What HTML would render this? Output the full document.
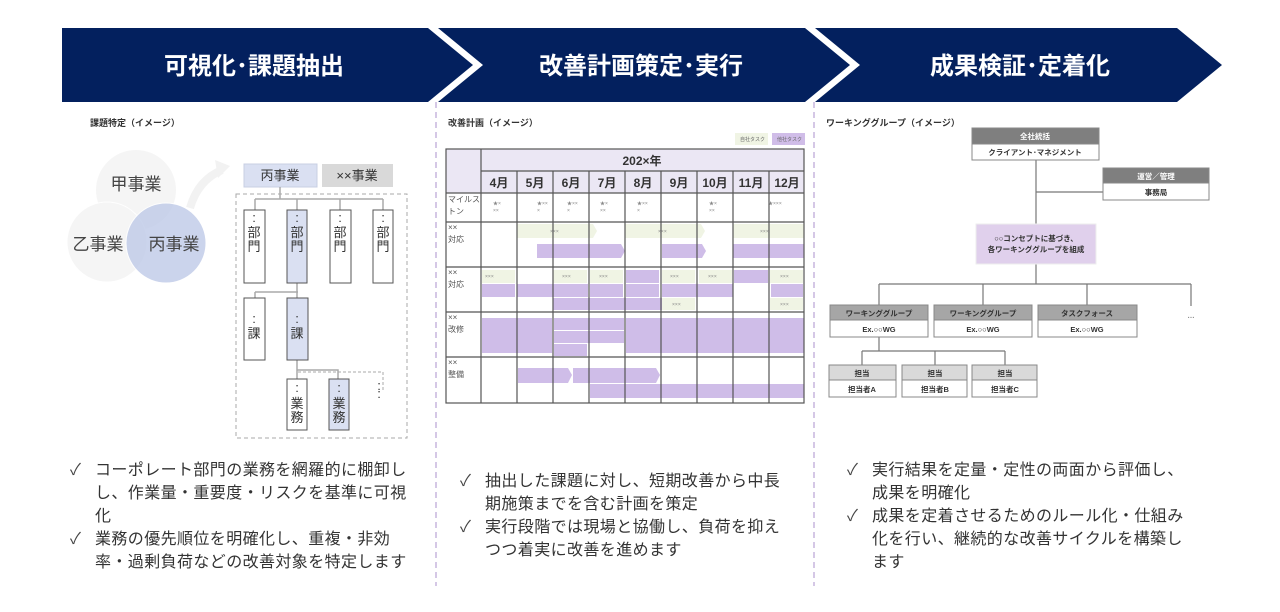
<!DOCTYPE html>
<html><head><meta charset="utf-8"><style>
body{margin:0;background:#fff;width:1280px;height:612px;overflow:hidden;font-family:"Liberation Sans","Noto Sans CJK JP",sans-serif}
svg text{font-family:"Liberation Sans","Noto Sans CJK JP",sans-serif}
.b{position:absolute;font-size:16px;line-height:23px;color:#333;letter-spacing:0.4px}
.b div{position:relative;padding-left:29px}
.b div:before{content:"✓";position:absolute;left:4px;top:0;color:#444}
</style></head><body>
<svg width="1280" height="612" viewBox="0 0 1280 612" style="position:absolute;left:0;top:0">
<g fill="#03205e">
<polygon points="62,28 428,28 473,65 428,102 62,102"/>
<polygon points="438,28 805,28 850,65 805,102 438,102 483,65"/>
<polygon points="815,28 1177,28 1222,65 1177,102 815,102 860,65"/>
</g>
<g fill="#fff" font-size="24" font-weight="bold" text-anchor="middle">
<text x="254" y="74">可視化･課題抽出</text>
<text x="641" y="74">改善計画策定･実行</text>
<text x="1020" y="74">成果検証･定着化</text>
</g>
<g stroke="#d5c8e6" stroke-width="2" stroke-dasharray="6,4">
<line x1="436" y1="102" x2="436" y2="586"/><line x1="814" y1="102" x2="814" y2="586"/>
</g>
<g font-size="9" fill="#333" font-weight="bold">
<text x="90" y="126">課題特定（イメージ）</text>
<text x="448" y="126">改善計画（イメージ）</text>
<text x="826" y="126">ワーキンググループ（イメージ）</text>
</g>
<!-- Left -->
<circle cx="136" cy="190" r="40" fill="#f5f5f5"/>
<circle cx="107" cy="242" r="40" fill="#f5f5f5" opacity="0.9" stroke="#fff"/>
<circle cx="166" cy="243" r="40" fill="#c2cde9" opacity="0.85" stroke="#fff"/>
<g font-size="17" fill="#444" text-anchor="middle">
<text x="136" y="190">甲事業</text><text x="98" y="250">乙事業</text><text x="174" y="250">丙事業</text>
</g>
<path d="M190,208 Q198,180 222,170" stroke="#f2f2f2" stroke-width="8" fill="none"/>
<polygon points="215,160 230,166 218,178" fill="#f2f2f2"/>
<rect x="244" y="164" width="73" height="23" fill="#dae0f2" stroke="#c8cfe3"/>
<rect x="322" y="164" width="71" height="23" fill="#d9d9d9"/>
<g font-size="13" fill="#333" text-anchor="middle"><text x="280" y="180">丙事業</text><text x="357" y="180">××事業</text></g>
<rect x="236" y="194" width="171" height="244" fill="none" stroke="#aaa" stroke-dasharray="4,3"/>
<g stroke="#aaa" stroke-width="1.5" fill="none">
<path d="M280,187V199M255,199H383M255,199V210M297,199V210M340,199V210M383,199V210"/>
<path d="M297,283V292M255,292H298M255,292V298M297,292V298"/>
<path d="M297,360V379M297,370H338V379"/>
</g>
<path d="M298,372H383V390" stroke="#aaa" fill="none" stroke-dasharray="3,2"/>
<g stroke="#555" stroke-width="1">
<rect x="244" y="210" width="21" height="73" fill="#fff"/><rect x="287" y="210" width="20" height="73" fill="#dae0f2"/>
<rect x="330" y="210" width="21" height="73" fill="#fff"/><rect x="373" y="210" width="20" height="73" fill="#fff"/>
<rect x="244" y="298" width="21" height="62" fill="#fff"/><rect x="287" y="298" width="21" height="62" fill="#dae0f2"/>
<rect x="287" y="379" width="20" height="51" fill="#fff"/><rect x="329" y="379" width="20" height="51" fill="#dae0f2"/>
</g>
<g font-size="13" fill="#333" text-anchor="middle">
<text x="254" y="222">:</text><text x="254" y="237">部</text><text x="254" y="251">門</text>
<text x="297" y="222">:</text><text x="297" y="237">部</text><text x="297" y="251">門</text>
<text x="340" y="222">:</text><text x="340" y="237">部</text><text x="340" y="251">門</text>
<text x="383" y="222">:</text><text x="383" y="237">部</text><text x="383" y="251">門</text>
<text x="254" y="323">:</text><text x="254" y="338">課</text>
<text x="297" y="323">:</text><text x="297" y="338">課</text>
<text x="297" y="392">:</text><text x="297" y="408">業</text><text x="297" y="422">務</text>
<text x="339" y="392">:</text><text x="339" y="408">業</text><text x="339" y="422">務</text>
<text x="379" y="390">:</text><text x="379" y="398">:</text>
</g>
<!-- Gantt -->
<rect x="735" y="133" width="33" height="12" fill="#f0f4e4"/><rect x="772" y="133" width="33" height="12" fill="#d0bde8"/>
<g font-size="5" fill="#666"><text x="740" y="141">自社タスク</text><text x="777" y="141">他社タスク</text></g>
<rect x="481" y="149" width="323" height="44" fill="#ebe7f4"/>
<rect x="446" y="149" width="35" height="44" fill="#ebe7f4"/>
<g fill="#f0f4e4">
<polygon points="517,224 593,224 597,231 593,238 517,238"/><polygon points="625,224 701,224 705,231 701,238 625,238"/><rect x="733" y="224" width="71" height="14"/>
<rect x="482" y="270" width="33" height="13"/><rect x="553" y="270" width="34" height="13"/><rect x="590" y="270" width="33" height="13"/><rect x="662" y="270" width="33" height="13"/><rect x="699" y="270" width="33" height="13"/><rect x="770" y="270" width="33" height="13"/>
<rect x="662" y="298" width="33" height="12"/><rect x="770" y="298" width="33" height="12"/>
</g>
<g fill="#cfbde8">
<polygon points="537,244 621,244 625,251 621,258 537,258"/><polygon points="662,244 702,244 706,251 702,258 662,258"/><rect x="733" y="244" width="71" height="14"/>
<rect x="626" y="270" width="33" height="13"/><rect x="734" y="270" width="34" height="13"/>
<rect x="482" y="284" width="33" height="13"/><rect x="517" y="284" width="71" height="13"/><rect x="590" y="284" width="33" height="13"/><rect x="626" y="284" width="33" height="13"/><rect x="662" y="284" width="71" height="13"/><rect x="771" y="284" width="32" height="13"/>
<rect x="553" y="298" width="109" height="12"/>
<rect x="482" y="318" width="70" height="35"/><rect x="554" y="318" width="70" height="12"/><rect x="554" y="331" width="70" height="12"/><rect x="554" y="344" width="33" height="12"/><rect x="626" y="318" width="178" height="35"/>
<polygon points="518,368 568,368 572,375 568,383 518,383"/><polygon points="573,368 656,368 660,375 656,383 573,383"/><rect x="590" y="384" width="214" height="14"/>
</g>
<g stroke="#555" stroke-width="1.2" fill="none">
<rect x="446" y="149" width="358" height="254"/>
<path d="M481,149V403M481,171H804M446,193H804M446,222H804M446,267H804M446,312H804M446,357H804"/>
<path d="M517,171V403M553,171V403M589,171V403M625,171V403M661,171V403M697,171V403M733,171V403M769,171V403"/>
</g>
<g font-size="12" font-weight="bold" fill="#333" text-anchor="middle">
<text x="642" y="165">202×年</text>
<text x="499" y="187">4月</text><text x="535" y="187">5月</text><text x="571" y="187">6月</text><text x="607" y="187">7月</text><text x="643" y="187">8月</text><text x="679" y="187">9月</text><text x="715" y="187">10月</text><text x="751" y="187">11月</text><text x="787" y="187">12月</text>
</g>
<g font-size="8" fill="#555">
<text x="448" y="202">マイルス</text><text x="448" y="214">トン</text>
<text x="448" y="230">××</text><text x="448" y="242">対応</text>
<text x="448" y="275">××</text><text x="448" y="287">対応</text>
<text x="448" y="320">××</text><text x="448" y="332">改修</text>
<text x="448" y="365">××</text><text x="448" y="377">整備</text>
</g>
<g font-size="5" fill="#888">
<text x="493" y="205">★×</text><text x="493" y="212">××</text><text x="537" y="205">★××</text><text x="537" y="212">×</text><text x="567" y="205">★××</text><text x="567" y="212">×</text><text x="600" y="205">★×</text><text x="600" y="212">××</text><text x="637" y="205">★××</text><text x="637" y="212">×</text><text x="709" y="205">★×</text><text x="709" y="212">××</text><text x="768" y="205">★×××</text>
<text x="550" y="233">×××</text><text x="658" y="233">×××</text><text x="760" y="233">×××</text>
<text x="485" y="278">×××</text><text x="562" y="278">×××</text><text x="599" y="278">×××</text><text x="670" y="278">×××</text><text x="708" y="278">×××</text><text x="780" y="278">×××</text><text x="672" y="306">×××</text><text x="780" y="306">×××</text>
</g>
<!-- Org -->
<g stroke="#777" stroke-width="1.2" fill="none">
<path d="M1036,160V224M1036,192H1103M1036,264V284M879,284H1191M879,284V305M983,284V305M1087,284V305M1191,284V306"/>
<path d="M879,337V351M862,351H1005M862,351V365M935,351V365M1005,351V365"/>
</g>
<g stroke="#888" stroke-width="1">
<rect x="972" y="128" width="127" height="16" fill="#7f7f7f"/><rect x="972" y="144" width="127" height="16" fill="#fff"/>
<rect x="1103" y="168" width="106" height="15" fill="#7f7f7f"/><rect x="1103" y="183" width="106" height="17" fill="#fff"/>
<rect x="976" y="224" width="120" height="40" fill="#e0d0ec" stroke="#eee"/>
<rect x="830" y="305" width="98" height="15" fill="#a6a6a6"/><rect x="830" y="320" width="98" height="17" fill="#fff"/>
<rect x="934" y="305" width="98" height="15" fill="#a6a6a6"/><rect x="934" y="320" width="98" height="17" fill="#fff"/>
<rect x="1038" y="305" width="99" height="15" fill="#a6a6a6"/><rect x="1038" y="320" width="99" height="17" fill="#fff"/>
<rect x="829" y="365" width="67" height="15" fill="#d9d9d9"/><rect x="829" y="380" width="67" height="17" fill="#fff"/>
<rect x="902" y="365" width="65" height="15" fill="#d9d9d9"/><rect x="902" y="380" width="65" height="17" fill="#fff"/>
<rect x="972" y="365" width="65" height="15" fill="#d9d9d9"/><rect x="972" y="380" width="65" height="17" fill="#fff"/>
</g>
<g font-size="7.5" font-weight="bold" text-anchor="middle" fill="#333">
<text x="1035" y="139" fill="#fff">全社統括</text><text x="1035" y="155">クライアント･マネジメント</text>
<text x="1156" y="179" fill="#fff">運営／管理</text><text x="1156" y="195">事務局</text>
<text x="1036" y="241">○○コンセプトに基づき、</text><text x="1036" y="252">各ワーキンググループを組成</text>
<text x="879" y="316">ワーキンググループ</text><text x="879" y="332">Ex.○○WG</text>
<text x="983" y="316">ワーキンググループ</text><text x="983" y="332">Ex.○○WG</text>
<text x="1087" y="316">タスクフォース</text><text x="1087" y="332">Ex.○○WG</text>
<text x="862" y="376">担当</text><text x="862" y="392">担当者A</text>
<text x="935" y="376">担当</text><text x="935" y="392">担当者B</text>
<text x="1005" y="376">担当</text><text x="1005" y="392">担当者C</text>
<text x="1191" y="318" fill="#888">…</text>
</g>
</svg>
<div class="b" style="left:66px;top:459px;width:380px">
<div>コーポレート部門の業務を網羅的に棚卸し<br>し、作業量・重要度・リスクを基準に可視<br>化</div>
<div>業務の優先順位を明確化し、重複・非効<br>率・過剰負荷などの改善対象を特定します</div>
</div>
<div class="b" style="left:456px;top:470px;width:370px">
<div>抽出した課題に対し、短期改善から中長<br>期施策までを含む計画を策定</div>
<div>実行段階では現場と協働し、負荷を抑え<br>つつ着実に改善を進めます</div>
</div>
<div class="b" style="left:843px;top:459px;width:420px">
<div>実行結果を定量・定性の両面から評価し、<br>成果を明確化</div>
<div>成果を定着させるためのルール化・仕組み<br>化を行い、継続的な改善サイクルを構築し<br>ます</div>
</div>
</body></html>
